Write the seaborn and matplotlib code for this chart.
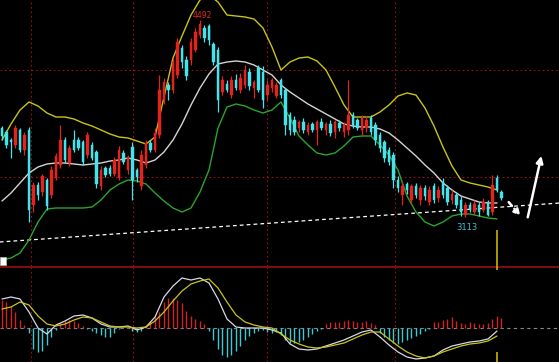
import numpy as np
import pandas as pd
import matplotlib
matplotlib.use("Agg")
import matplotlib.pyplot as plt
import seaborn as sns
from matplotlib.patches import Rectangle

sns.set_style("dark")
plt.rcParams['font.family'] = ['DejaVu Sans']

# ---------------- data ----------------
opens = [3736,3708,3652,3617,3722,3582,3722,3197,3337,3288,
         3372,3267,3386,3477,3652,3491,3652,3652,3638,3547,
         3617,3568,3330,3456,3456,3414,3386,3561,3442,3603,
         3442,3330,3477,3631,3582,3687,3932,4037,4002,4107,
         4296,4212,4212,4282,4387,4436,4450,4324,4282,3988,
         4044,3967,4072,4002,4037,4128,4016,4156,4128,3967,
         4016,3960,4072,4002,3827,3792,3736,3778,3708,3764,
         3722,3778,3722,3764,3708,3771,3708,3722,3827,3792,
         3722,3736,3806,3757,3687,3638,3582,3547,3372,3267,
         3344,3232,3330,3232,3316,3218,3330,3246,3358,3316,
         3232,3267,3232,3127,3197,3148,3197,3162,3218,3148,
         3386,3288]
closes = [3680,3617,3638,3736,3582,3687,3162,3337,3267,3400,
          3190,3442,3540,3652,3512,3596,3582,3596,3498,3687,
          3526,3344,3442,3407,3414,3512,3582,3498,3533,3372,
          3393,3547,3631,3582,3701,4002,4058,4002,4198,4338,
          4198,4100,4338,4408,4464,4366,4352,4198,3932,4072,
          4002,4072,4016,4086,4142,4030,4058,4002,3932,4037,
          4072,4037,3967,3757,3722,3708,3778,3722,3757,3722,
          3778,3736,3764,3701,3778,3736,3757,3827,3750,3736,
          3806,3792,3708,3652,3596,3526,3498,3372,3316,3330,
          3302,3330,3267,3316,3260,3302,3232,3302,3267,3218,
          3274,3197,3148,3197,3162,3204,3148,3218,3127,3337,
          3302,3246]
highs = [3750,3722,3666,3757,3736,3708,3743,3358,3358,3414,
         3386,3470,3561,3757,3673,3617,3722,3673,3652,3708,
         3638,3582,3470,3470,3477,3533,3610,3582,3547,3638,
         3456,3582,3652,3652,3736,4107,4086,4058,4226,4366,
         4317,4240,4366,4436,4492,4457,4464,4338,4303,4100,
         4072,4100,4114,4121,4177,4156,4072,4177,4170,4072,
         4086,4058,4086,4016,3848,3820,3792,3806,3778,3778,
         3792,3806,3778,3792,3792,3792,3778,4072,3848,3806,
         3827,3820,3827,3778,3708,3652,3603,3568,3400,3358,
         3358,3344,3351,3337,3337,3330,3351,3330,3386,3337,
         3302,3288,3260,3218,3218,3232,3218,3246,3232,3407,
         3407,3302]
lows = [3652,3596,3526,3596,3568,3547,3078,3148,3232,3260,
        3162,3246,3372,3456,3491,3470,3568,3582,3477,3526,
        3512,3316,3302,3393,3400,3400,3372,3484,3414,3232,
        3358,3302,3456,3568,3568,3666,3904,3932,3981,4086,
        4156,4072,4177,4268,4366,4338,4317,4177,3848,3967,
        3988,3946,4002,3981,4016,4002,3946,3988,3876,3932,
        3988,3946,3946,3687,3687,3687,3708,3701,3687,3708,
        3617,3722,3687,3680,3666,3715,3673,3687,3736,3722,
        3687,3708,3687,3617,3568,3498,3477,3316,3288,3197,
        3274,3211,3246,3197,3232,3197,3211,3218,3246,3197,
        3204,3176,3120,3113,3148,3134,3120,3148,3120,3127,
        3288,3232]

# Bollinger bands, sampled every second session
band_upper = [3652,3764,3862,3918,3890,3841,3813,3813,3799,3771,
              3750,3722,3694,3673,3666,3645,3624,3673,3953,4226,
              4380,4527,4632,4667,4618,4527,4520,4513,4499,4436,
              4303,4142,4198,4226,4233,4205,4142,4023,3897,3813,
              3813,3813,3848,3897,3960,3981,3967,3876,3750,3603,
              3470,3372,3351,3337,3323,3302]
band_mid = [3225,3281,3351,3421,3463,3484,3491,3491,3484,3477,
            3484,3491,3505,3512,3526,3512,3491,3512,3568,3652,
            3764,3897,4016,4114,4184,4198,4205,4198,4177,4142,
            4107,4037,3988,3946,3904,3869,3834,3799,3764,3750,
            3743,3743,3729,3701,3652,3596,3540,3477,3421,3351,
            3302,3260,3239,3218,3211,3211]
band_lower = [2812,2826,2861,2952,3078,3169,3176,3176,3176,3176,
              3183,3232,3302,3344,3372,3365,3344,3281,3225,3176,
              3148,3176,3288,3442,3736,3883,3904,3890,3862,3841,
              3862,3918,3806,3680,3617,3561,3547,3561,3610,3673,
              3680,3680,3617,3547,3442,3260,3148,3078,3050,3078,
              3120,3134,3134,3120,3106,3099]

# MACD
macd_hist = [28,26,22,16,8,3,-5,-21,-24,-23,
             -17,-9,-2,5,7,8,7,5,2,-1,
             -3,-5,-7,-9,-9,-5,-1,1,1,-3,
             -4,-3,3,7,11,16,26,30,30,28,
             25,17,12,9,7,4,-3,-12,-21,-27,
             -29,-27,-23,-18,-12,-8,-5,-3,-2,-4,
             -5,-4,-7,-12,-15,-15,-14,-12,-9,-6,
             -3,-1,4,6,6,6,7,8,7,6,
             6,7,5,3,-5,-9,-12,-15,-16,-14,
             -12,-10,-8,-6,-3,-1,6,6,8,9,
             11,7,5,4,6,5,4,4,5,9,
             12,10]
macd_dif = [29,31,29,16,0,-6,3,7,12,13,
            10,4,1,1,2,-2,1,11,31,42,
            50,48,50,45,29,9,1,0,0,0,
            -2,-5,-16,-21,-22,-21,-18,-15,-12,-8,
            -4,-2,-9,-17,-24,-29,-31,-30,-28,-22,
            -18,-16,-14,-13,-11,-3]
macd_dea = [19,21,26,23,12,4,2,4,8,11,
            10,6,2,1,1,0,1,7,16,27,
            37,44,47,49,40,26,13,6,3,1,
            0,-6,-12,-16,-19,-20,-19,-17,-15,-11,
            -7,-4,-4,-11,-18,-24,-28,-30,-28,-24,
            -21,-18,-16,-15,-13,-8]

# annotations
label_high = "4492"
label_low = "3113"
trend_x = [-0.5, 124.0]
trend_y = [2938, 3211]

# ---------------- frames ----------------
n = len(opens)
df = pd.DataFrame({"i": np.arange(n), "open": opens, "close": closes,
                   "high": highs, "low": lows, "hist": macd_hist})
band_idx = np.arange(0, 2 * len(band_upper), 2)
bands = pd.DataFrame({"i": band_idx, "upper": band_upper,
                      "mid": band_mid, "lower": band_lower,
                      "dif": macd_dif, "dea": macd_dea})

RED = "#e3231d"
CYAN = "#44e4ec"
BG = "black"
GRID = "#a01010"

fig = plt.figure(figsize=(5.59, 3.62), dpi=100, facecolor=BG)
ax = fig.add_axes([0, 96 / 362, 1, 266 / 362])
ax2 = fig.add_axes([0, 0, 1, 96 / 362])
xlim = (-0.444, 123.78)
for a in (ax, ax2):
    a.set_facecolor(BG)
    a.set_xlim(*xlim)
    a.set_axis_off()
ax.set_ylim(2770, 4632)
ax2.set_ylim(-34, 62)

# grid
vgrid = [6.44, 29.1, 58.9, 87.3]
for a in (ax, ax2):
    for v in vgrid:
        a.axvline(v, color=GRID, lw=0.8, ls=(0, (1.5, 2.5)), zorder=0)
for h in (4142, 3393):
    ax.axhline(h, color=GRID, lw=0.8, ls=(0, (1.5, 2.5)), zorder=0)
ax2.axhline(61.5, color="#9a1010", lw=1.2, zorder=1)

# trend line
ax.plot(trend_x, trend_y, color="white", lw=0.9, ls=(0, (3, 2.5)), zorder=2)

# bands
sns.lineplot(data=bands, x="i", y="upper", ax=ax, color="#c8c416", lw=1.0, zorder=3)
sns.lineplot(data=bands, x="i", y="mid", ax=ax, color="#d4d4d4", lw=1.0, zorder=3)
sns.lineplot(data=bands, x="i", y="lower", ax=ax, color="#2aa52a", lw=1.0, zorder=3)

# candles
up = df["close"] >= df["open"]
colors = np.where(up, RED, CYAN)
body_bottom = np.minimum(df["open"], df["close"])
body_h = np.maximum(np.abs(df["close"] - df["open"]), 6)
ax.vlines(df["i"], df["low"], df["high"], colors=colors, lw=0.9, zorder=4)
ax.bar(df["i"], body_h, bottom=body_bottom, width=0.62, color=colors,
       edgecolor=colors, lw=0.3, zorder=5)

# labels
ax.text(44.5, 4525, label_high, color="#e02a20", fontsize=5.5,
        ha="center", va="center", zorder=6)
ax.text(103.3, 3043, label_low, color="#3fc2d4", fontsize=6,
        ha="center", va="center", zorder=6)

# cursor line
ax.vlines(110, 2770, 3022, color="#c8b400", lw=1.2, zorder=6)
ax2.vlines(110, -34, -24, color="#c8b400", lw=1.2, zorder=6)
ax2.vlines(110, 58, 62, color="#c8b400", lw=1.2, zorder=6)

# arrows
ax.annotate("", xy=(115.6, 3106), xytext=(112.2, 3232),
            arrowprops=dict(arrowstyle="-|>", color="white", lw=1.8,
                            ls=(0, (2, 1.5)), mutation_scale=9))
ax.annotate("", xy=(120.0, 3560), xytext=(116.7, 3092),
            arrowprops=dict(arrowstyle="-|>", color="white", lw=1.8,
                            mutation_scale=10))

# small white tag at the bottom-left
ax.add_patch(Rectangle((0.0, 0.004), 0.011, 0.03, transform=ax.transAxes,
                       facecolor="white", edgecolor="#bbbbbb", lw=0.5, zorder=7))

# MACD
ax2.axhline(0, color="#7a8a90", lw=0.8, ls=(0, (3, 3)), zorder=1)
hcol = np.where(df["hist"] >= 0, "#d42222", "#3fcad2")
ax2.vlines(df["i"], 0, df["hist"], colors=hcol, lw=1.0, zorder=2)
sns.lineplot(data=bands, x="i", y="dif", ax=ax2, color="#d8d8e6", lw=0.9, zorder=3)
sns.lineplot(data=bands, x="i", y="dea", ax=ax2, color="#c8c418", lw=0.9, zorder=3)

for a in (ax, ax2):
    a.set_xlim(*xlim)
    a.set_axis_off()
ax.set_ylim(2770, 4632)
ax2.set_ylim(-34, 62)

fig.savefig("out.png", dpi=100, facecolor=BG)
